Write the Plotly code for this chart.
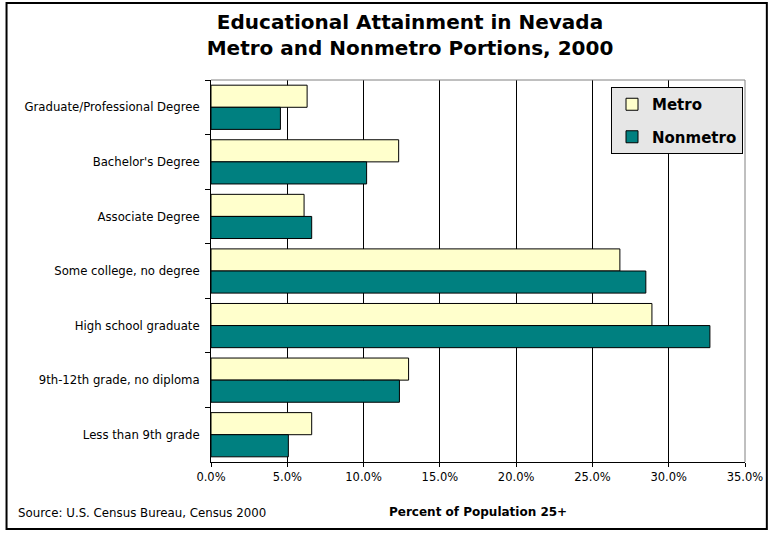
import plotly.graph_objects as go

categories = ["Graduate/Professional Degree", "Bachelor's Degree", "Associate Degree",
              "Some college, no degree", "High school graduate",
              "9th-12th grade, no diploma", "Less than 9th grade"]
metro = [6.3, 12.3, 6.1, 26.8, 28.9, 12.95, 6.6]
nonmetro = [4.55, 10.2, 6.6, 28.5, 32.7, 12.35, 5.07]
x_ticks = [0, 5, 10, 15, 20, 25, 30, 35]
x_tick_labels = ["0.0%", "5.0%", "10.0%", "15.0%", "20.0%", "25.0%", "30.0%", "35.0%"]

FONT = "DejaVu Sans"
W, H = 775, 533
L, R, T, B = 211, 749, 80, 462
pw, ph = R - L, B - T

def px(x):
    return (x - L) / pw

def py(y):
    return (B - y) / ph

fig = go.Figure()
fig.add_trace(go.Bar(y=categories, x=metro, orientation="h", name="Metro",
                     marker=dict(color="#FFFFCC", line=dict(color="black", width=1)),
                     legendgroup="a"))
fig.add_trace(go.Bar(y=categories, x=nonmetro, orientation="h", name="Nonmetro",
                     marker=dict(color="#008080", line=dict(color="black", width=1)),
                     legendgroup="b"))

fig.update_layout(
    width=W, height=H,
    margin=dict(l=L, r=W - R, t=T, b=H - B, pad=0),
    paper_bgcolor="white", plot_bgcolor="white",
    barmode="group", bargap=0.19, bargroupgap=0,
    font=dict(family=FONT, size=11.7, color="black"),
    title=dict(text="<b>Educational Attainment in Nevada<br>Metro and Nonmetro Portions, 2000</b>",
               x=410 / W, xanchor="center", y=1 - 29 / H, yanchor="middle",
               font=dict(family=FONT, size=20, color="black")),
    legend=dict(x=px(614), xanchor="left", y=py(87), yanchor="top",
                bgcolor="#E6E6E6", bordercolor="black", borderwidth=1,
                font=dict(family=FONT, size=15, color="black", weight="bold"),
                traceorder="grouped", tracegroupgap=10, itemwidth=30),
    xaxis=dict(range=[0, 35], tickvals=x_ticks, ticktext=x_tick_labels,
               showgrid=True, gridcolor="black", gridwidth=1,
               showline=True, linecolor="black", linewidth=1, mirror=False,
               ticks="outside", ticklen=4, tickcolor="black",
               zeroline=False, tickfont=dict(size=11.5, family=FONT),
               fixedrange=True),
    yaxis=dict(autorange="reversed", showline=True, linecolor="black", linewidth=1,
               ticks="outside", ticklen=5, tickcolor="black", tickson="boundaries",
               showgrid=False, tickfont=dict(size=11.7, family=FONT), ticklabelstandoff=8),
    showlegend=True,
)

# plot-area border (top and right, gray)
fig.add_shape(type="line", xref="paper", yref="paper", x0=0, x1=1, y0=1, y1=1,
              line=dict(color="#808080", width=1))
fig.add_shape(type="line", xref="paper", yref="paper", x0=1, x1=1, y0=0, y1=1,
              line=dict(color="#808080", width=1))
# outer chart border
fig.add_shape(type="rect", xref="paper", yref="paper",
              x0=px(5), x1=px(771), y0=py(529), y1=py(3),
              line=dict(color="black", width=2), fillcolor="rgba(0,0,0,0)")

fig.add_annotation(text="<b>Percent of Population 25+</b>", xref="paper", yref="paper",
                   x=0.5, y=py(512), xanchor="center", yanchor="middle", showarrow=False,
                   font=dict(family=FONT, size=12, color="black"))
fig.add_annotation(text="Source: U.S. Census Bureau, Census 2000", xref="paper", yref="paper",
                   x=px(15), y=py(513), xanchor="left", yanchor="middle", showarrow=False,
                   font=dict(family=FONT, size=11.8, color="black"))

fig.write_html("out.html", config={"displayModeBar": False},
               post_script="document.body.style.margin='0px';document.body.style.overflow='hidden';")
